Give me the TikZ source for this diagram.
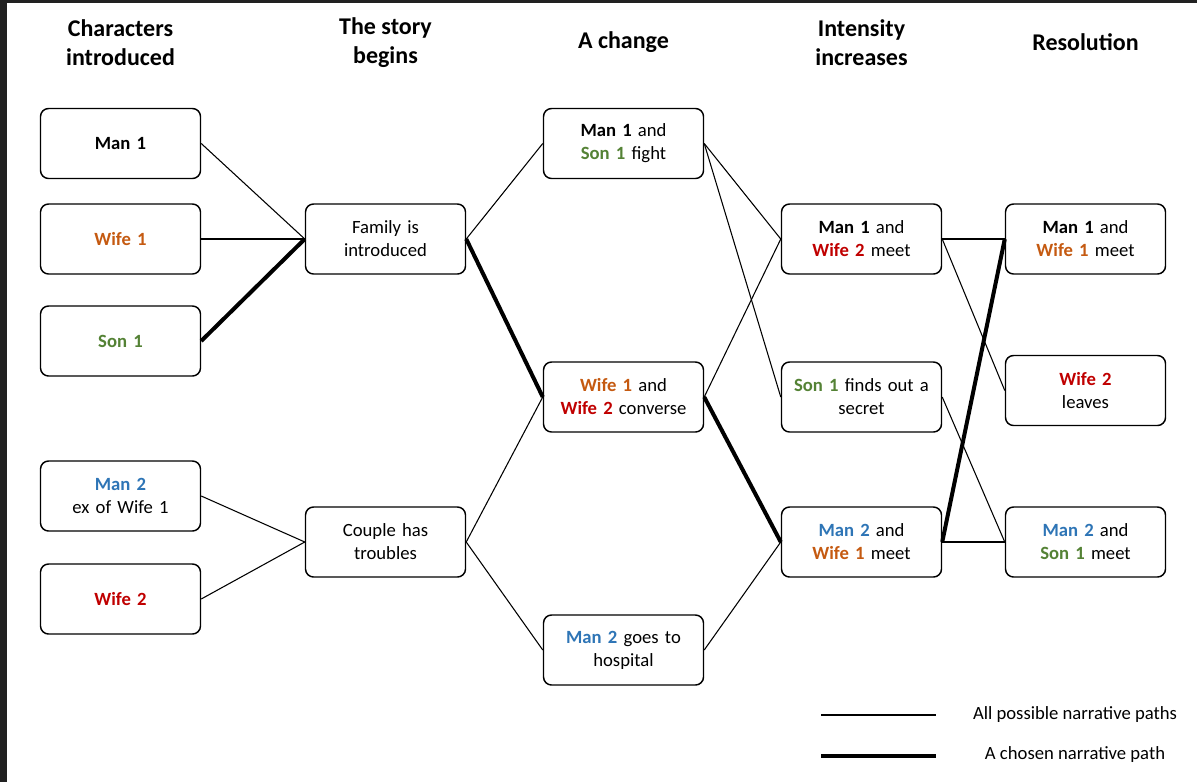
\documentclass[tikz,border=0pt]{standalone}
\usepackage{fontspec}
\setmainfont{Carlito}
\usetikzlibrary{positioning}

\definecolor{frame}{RGB}{33,33,33}
\definecolor{wifeonecol}{RGB}{197,90,17}
\definecolor{wifetwocol}{RGB}{192,0,0}
\definecolor{sononecol}{RGB}{84,130,53}
\definecolor{mantwocol}{RGB}{46,117,182}

\newcommand{\manone}{\textbf{Man 1}}
\newcommand{\mantwo}{\textcolor{mantwocol}{\textbf{Man 2}}}
\newcommand{\wifeone}{\textcolor{wifeonecol}{\textbf{Wife 1}}}
\newcommand{\wifetwo}{\textcolor{wifetwocol}{\textbf{Wife 2}}}
\newcommand{\sonone}{\textcolor{sononecol}{\textbf{Son 1}}}

\begin{document}
\begin{tikzpicture}[
          x=0.75pt, y=-0.75pt,
          box/.style={rectangle, draw, rounded corners=6pt, line width=1.1pt, text width=110pt, inner xsep=5pt, align=center, minimum height=52.5pt, font=\fontsize{14pt}{17.25pt}\selectfont},
          head/.style={align=center, font=\fontsize{18pt}{21.75pt}\selectfont\bfseries},
          note/.style={font=\fontsize{14pt}{17.25pt}\selectfont},
          link/.style={line width=0.8pt},
          chosen/.style={line width=3pt}
        ]
          \useasboundingbox (0,0) rectangle (1197,782);
          \fill[frame] (0,0) rectangle (1197,782);
          \fill[white] (7,3) rectangle (1197,782);

          % column headings
          \node[head] (hchar) at (120.5,42.5) {Characters\\introduced};
          \node[head] (hbegin) at (385.5,42.5) {The story\\begins};
          \node[head] (hchange) at (623.5,42.5) {A change};
          \node[head] (hinten) at (861.5,42.5) {Intensity\\increases};
          \node[head] (hres) at (1085.5,42.5) {Resolution};

          % characters
          \node[box] (man1) at (120.5,143.5) {\manone};
          \node[box] (wife1) at (120.5,239) {\wifeone};
          \node[box] (son1) at (120.5,341) {\sonone};
          \node[box] (man2) at (120.5,496) {\mantwo\\ex of Wife 1};
          \node[box] (wife2) at (120.5,599) {\wifetwo};

          % story begins
          \node[box] (family) at (385.5,239) {Family is\\introduced};
          \node[box] (couple) at (385.5,542) {Couple has\\troubles};

          % a change
          \node[box] (fight) at (623.5,143.5) {\manone{} and\\\sonone{} fight};
          \node[box] (converse) at (623.5,397) {\wifeone{} and\\\wifetwo{} converse};
          \node[box] (hospital) at (623.5,650) {\mantwo{} goes to\\hospital};

          % intensity increases
          \node[box] (meetmw2) at (861.5,239) {\manone{} and\\\wifetwo{} meet};
          \node[box] (secret) at (861.5,397) {\sonone{} finds out a\\secret};
          \node[box] (meetm2w1) at (861.5,542) {\mantwo{} and\\\wifeone{} meet};

          % resolution
          \node[box] (meetmw1) at (1085.5,239) {\manone{} and\\\wifeone{} meet};
          \node[box] (leaves) at (1085.5,390.5) {\wifetwo\\leaves};
          \node[box] (meetm2s1) at (1085.5,542) {\mantwo{} and\\\sonone{} meet};

          \draw[link] (man1.east) -- (family.west);
          \draw[link] (wife1.east) -- (family.west);
          \draw[chosen] (son1.east) -- (family.west);
          \draw[link] (man2.east) -- (couple.west);
          \draw[link] (wife2.east) -- (couple.west);

          \draw[link] (family.east) -- (fight.west);
          \draw[chosen] (family.east) -- (converse.west);
          \draw[link] (couple.east) -- (converse.west);
          \draw[link] (couple.east) -- (hospital.west);

          \draw[link] (fight.east) -- (meetmw2.west);
          \draw[link] (fight.east) -- (secret.west);
          \draw[link] (converse.east) -- (meetmw2.west);
          \draw[chosen] (converse.east) -- (meetm2w1.west);
          \draw[link] (hospital.east) -- (meetm2w1.west);

          \draw[link] (meetmw2.east) -- (meetmw1.west);
          \draw[link] (meetmw2.east) -- (leaves.west);
          \draw[link] (secret.east) -- (meetm2s1.west);
          \draw[link] (meetm2w1.east) -- (meetm2s1.west);
          \draw[chosen] (meetm2w1.east) -- (meetmw1.west);

          % legend
          \coordinate (thinA) at (821,715);
          \coordinate (thinB) at (936,715);
          \coordinate (thickA) at (821,756);
          \coordinate (thickB) at (936,756);
          \draw[link] (thinA) -- (thinB);
          \draw[chosen] (thickA) -- (thickB);
          \node[note] (lthin) at (1075,715) {All possible narrative paths};
          \node[note] (lthick) at (1075,755) {A chosen narrative path};
        \end{tikzpicture}
\end{document}
